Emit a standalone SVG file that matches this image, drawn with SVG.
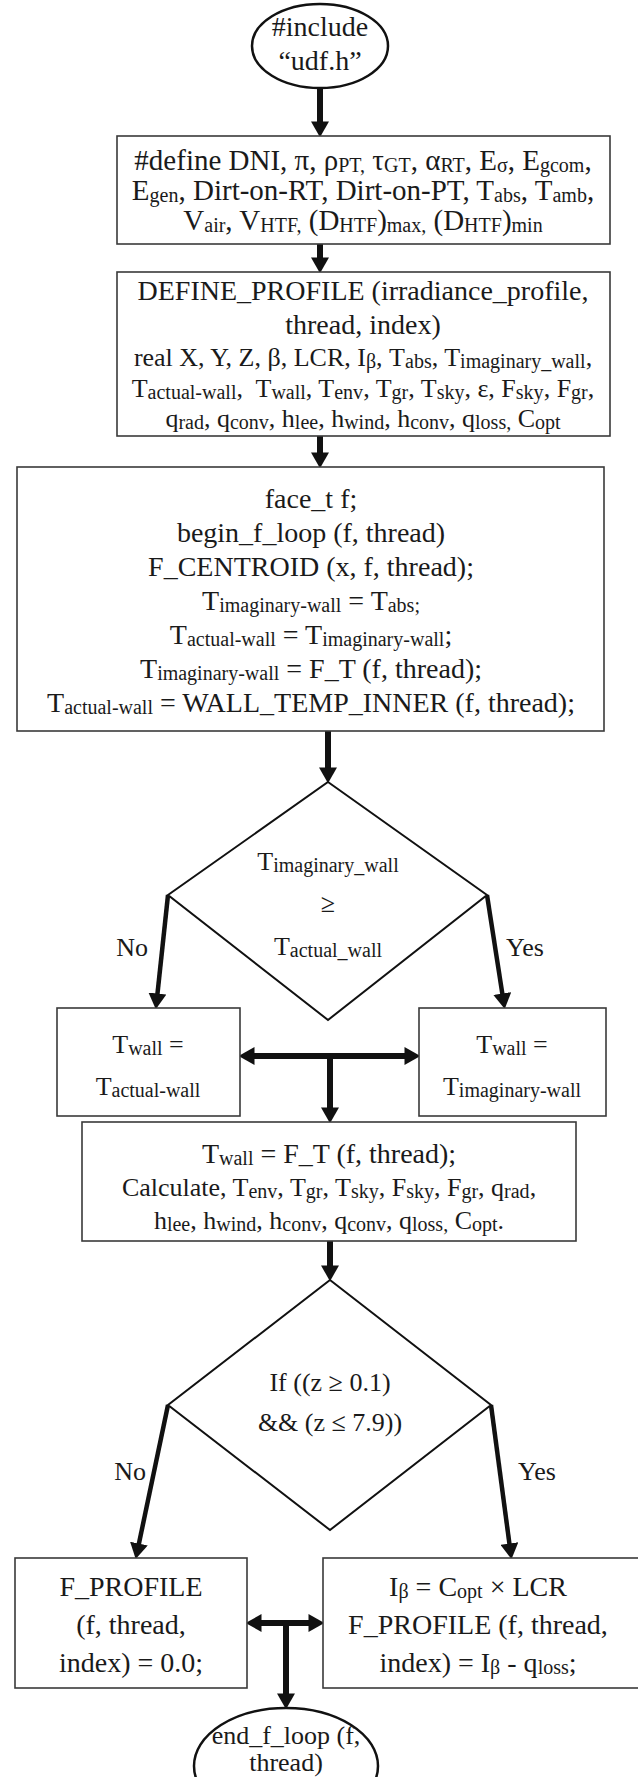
<svg xmlns="http://www.w3.org/2000/svg" width="638" height="1777" viewBox="0 0 638 1777">
<defs>
<style>
text{font-family:"Liberation Serif","Times New Roman",serif;fill:#1a1a1a;text-anchor:middle}
.t29{font-size:29px}
.t28{font-size:28px}
.t26{font-size:26px}
.s{font-size:20px;baseline-shift:-2px}
.box{fill:#fff;stroke:#3a3a3a;stroke-width:1.6}
.dia{fill:#fff;stroke:#111;stroke-width:2}
.ell{fill:#fff;stroke:#111;stroke-width:2.5}
.arr{stroke:#111;stroke-width:6;fill:none}
.arr2{stroke:#111;stroke-width:4.5;fill:none}
</style>
<marker id="ah" markerUnits="userSpaceOnUse" markerWidth="16" markerHeight="18" viewBox="0 0 14 16" refX="4" refY="8" orient="auto-start-reverse">
<path d="M0,0 L14,8 L0,16 z" fill="#111"/>
</marker>
</defs>

<g id="connectors">
<line class="arr" x1="320" y1="88" x2="320" y2="126" marker-end="url(#ah)"/>
<line class="arr" x1="320" y1="244" x2="320" y2="262" marker-end="url(#ah)"/>
<line class="arr" x1="320" y1="436" x2="320" y2="457" marker-end="url(#ah)"/>
<line class="arr" x1="328" y1="731" x2="328" y2="772" marker-end="url(#ah)"/>
<line class="arr2" x1="168" y1="895" x2="157" y2="998" marker-end="url(#ah)"/>
<line class="arr2" x1="487" y1="895" x2="503" y2="998" marker-end="url(#ah)"/>
<line class="arr" x1="250" y1="1056" x2="409" y2="1056" marker-start="url(#ah)" marker-end="url(#ah)"/>
<line class="arr" x1="330" y1="1056" x2="330" y2="1112" marker-end="url(#ah)"/>
<line class="arr" x1="330" y1="1241" x2="330" y2="1270" marker-end="url(#ah)"/>
<line class="arr2" x1="168" y1="1405" x2="138" y2="1548" marker-end="url(#ah)"/>
<line class="arr2" x1="491" y1="1405" x2="510" y2="1548" marker-end="url(#ah)"/>
<line class="arr" x1="257" y1="1623" x2="313" y2="1623" marker-start="url(#ah)" marker-end="url(#ah)"/>
<line class="arr" x1="286" y1="1623" x2="286" y2="1698" marker-end="url(#ah)"/>
</g>

<g id="n-include">
<ellipse class="ell" cx="320" cy="46" rx="68" ry="42"/>
<text class="t28" x="320" y="36">#include</text>
<text class="t28" x="320" y="70">“udf.h”</text>
</g>

<g id="n-define">
<rect class="box" x="117" y="136" width="493" height="108"/>
<text class="t29" x="363" y="170">#define DNI, π, ρ<tspan class="s">PT,</tspan> τ<tspan class="s">GT</tspan>, α<tspan class="s">RT</tspan>, E<tspan class="s">σ</tspan>, E<tspan class="s">gcom</tspan>,</text>
<text class="t29" x="363" y="200">E<tspan class="s">gen</tspan>, Dirt-on-RT, Dirt-on-PT, T<tspan class="s">abs</tspan>, T<tspan class="s">amb</tspan>,</text>
<text class="t29" x="363" y="230">V<tspan class="s">air</tspan>, V<tspan class="s">HTF,</tspan> (D<tspan class="s">HTF</tspan>)<tspan class="s">max,</tspan> (D<tspan class="s">HTF</tspan>)<tspan class="s">min</tspan></text>
</g>

<g id="n-profile">
<rect class="box" x="117" y="272" width="493" height="164"/>
<text class="t28" x="363" y="300">DEFINE_PROFILE (irradiance_profile,</text>
<text class="t28" x="363" y="334">thread, index)</text>
<text class="t26" x="363" y="366">real X, Y, Z, β, LCR, I<tspan class="s">β</tspan>, T<tspan class="s">abs</tspan>, T<tspan class="s">imaginary_wall</tspan>,</text>
<text class="t26" x="363" y="397" xml:space="preserve">T<tspan class="s">actual-wall</tspan>,  T<tspan class="s">wall</tspan>, T<tspan class="s">env</tspan>, T<tspan class="s">gr</tspan>, T<tspan class="s">sky</tspan>, ε, F<tspan class="s">sky</tspan>, F<tspan class="s">gr</tspan>,</text>
<text class="t26" x="363" y="427">q<tspan class="s">rad</tspan>, q<tspan class="s">conv</tspan>, h<tspan class="s">lee</tspan>, h<tspan class="s">wind</tspan>, h<tspan class="s">conv</tspan>, q<tspan class="s">loss,</tspan> C<tspan class="s">opt</tspan></text>
</g>

<g id="n-loop">
<rect class="box" x="17" y="467" width="587" height="264"/>
<text class="t28" x="311" y="508">face_t f;</text>
<text class="t28" x="311" y="542">begin_f_loop (f, thread)</text>
<text class="t28" x="311" y="576">F_CENTROID (x, f, thread);</text>
<text class="t28" x="311" y="610">T<tspan class="s">imaginary-wall</tspan> = T<tspan class="s">abs;</tspan></text>
<text class="t28" x="311" y="644">T<tspan class="s">actual-wall</tspan> = T<tspan class="s">imaginary-wall</tspan>;</text>
<text class="t28" x="311" y="678">T<tspan class="s">imaginary-wall</tspan> = F_T (f, thread);</text>
<text class="t28" x="311" y="712">T<tspan class="s">actual-wall</tspan> = WALL_TEMP_INNER (f, thread);</text>
</g>

<g id="n-cond1">
<polygon class="dia" points="328,782 487,895 328,1020 168,895"/>
<text class="t26" x="328" y="870">T<tspan class="s">imaginary_wall</tspan></text>
<text class="t26" x="328" y="912">≥</text>
<text class="t26" x="328" y="955">T<tspan class="s">actual_wall</tspan></text>
</g>

<g id="lbl-no1"><text class="t26" x="148" y="956" style="text-anchor:end">No</text></g>
<g id="lbl-yes1"><text class="t26" x="506" y="956" style="text-anchor:start">Yes</text></g>

<g id="n-twall-actual">
<rect class="box" x="57" y="1008" width="183" height="108"/>
<text class="t26" x="148" y="1053">T<tspan class="s">wall</tspan> =</text>
<text class="t26" x="148" y="1095">T<tspan class="s">actual-wall</tspan></text>
</g>

<g id="n-twall-imag">
<rect class="box" x="419" y="1008" width="187" height="108"/>
<text class="t26" x="512" y="1053">T<tspan class="s">wall</tspan> =</text>
<text class="t26" x="512" y="1095">T<tspan class="s">imaginary-wall</tspan></text>
</g>

<g id="n-calc">
<rect class="box" x="82" y="1122" width="494" height="119"/>
<text class="t28" x="329" y="1163">T<tspan class="s">wall</tspan> = F_T (f, thread);</text>
<text class="t26" x="329" y="1196">Calculate, T<tspan class="s">env</tspan>, T<tspan class="s">gr</tspan>, T<tspan class="s">sky</tspan>, F<tspan class="s">sky</tspan>, F<tspan class="s">gr</tspan>, q<tspan class="s">rad</tspan>,</text>
<text class="t26" x="329" y="1229">h<tspan class="s">lee</tspan>, h<tspan class="s">wind</tspan>, h<tspan class="s">conv</tspan>, q<tspan class="s">conv</tspan>, q<tspan class="s">loss,</tspan> C<tspan class="s">opt</tspan>.</text>
</g>

<g id="n-cond2">
<polygon class="dia" points="330,1280 491,1405 330,1530 168,1405"/>
<text class="t26" x="330" y="1391">If ((z ≥ 0.1)</text>
<text class="t26" x="330" y="1431">&amp;&amp; (z ≤ 7.9))</text>
</g>

<g id="lbl-no2"><text class="t26" x="146" y="1480" style="text-anchor:end">No</text></g>
<g id="lbl-yes2"><text class="t26" x="518" y="1480" style="text-anchor:start">Yes</text></g>

<g id="n-profile-zero">
<rect class="box" x="15" y="1558" width="232" height="130"/>
<text class="t28" x="131" y="1596">F_PROFILE</text>
<text class="t28" x="131" y="1634">(f, thread,</text>
<text class="t28" x="131" y="1672">index) = 0.0;</text>
</g>

<g id="n-profile-set">
<rect class="box" x="323" y="1558" width="320" height="130"/>
<text class="t28" x="478" y="1596">I<tspan class="s">β</tspan> = C<tspan class="s">opt</tspan> × LCR</text>
<text class="t28" x="478" y="1634">F_PROFILE (f, thread,</text>
<text class="t28" x="478" y="1672">index) = I<tspan class="s">β</tspan> - q<tspan class="s">loss</tspan>;</text>
</g>

<g id="n-end">
<ellipse class="ell" cx="286" cy="1766" rx="92" ry="58"/>
<text class="t26" x="286" y="1744">end_f_loop (f,</text>
<text class="t26" x="286" y="1771">thread)</text>
</g>
</svg>
